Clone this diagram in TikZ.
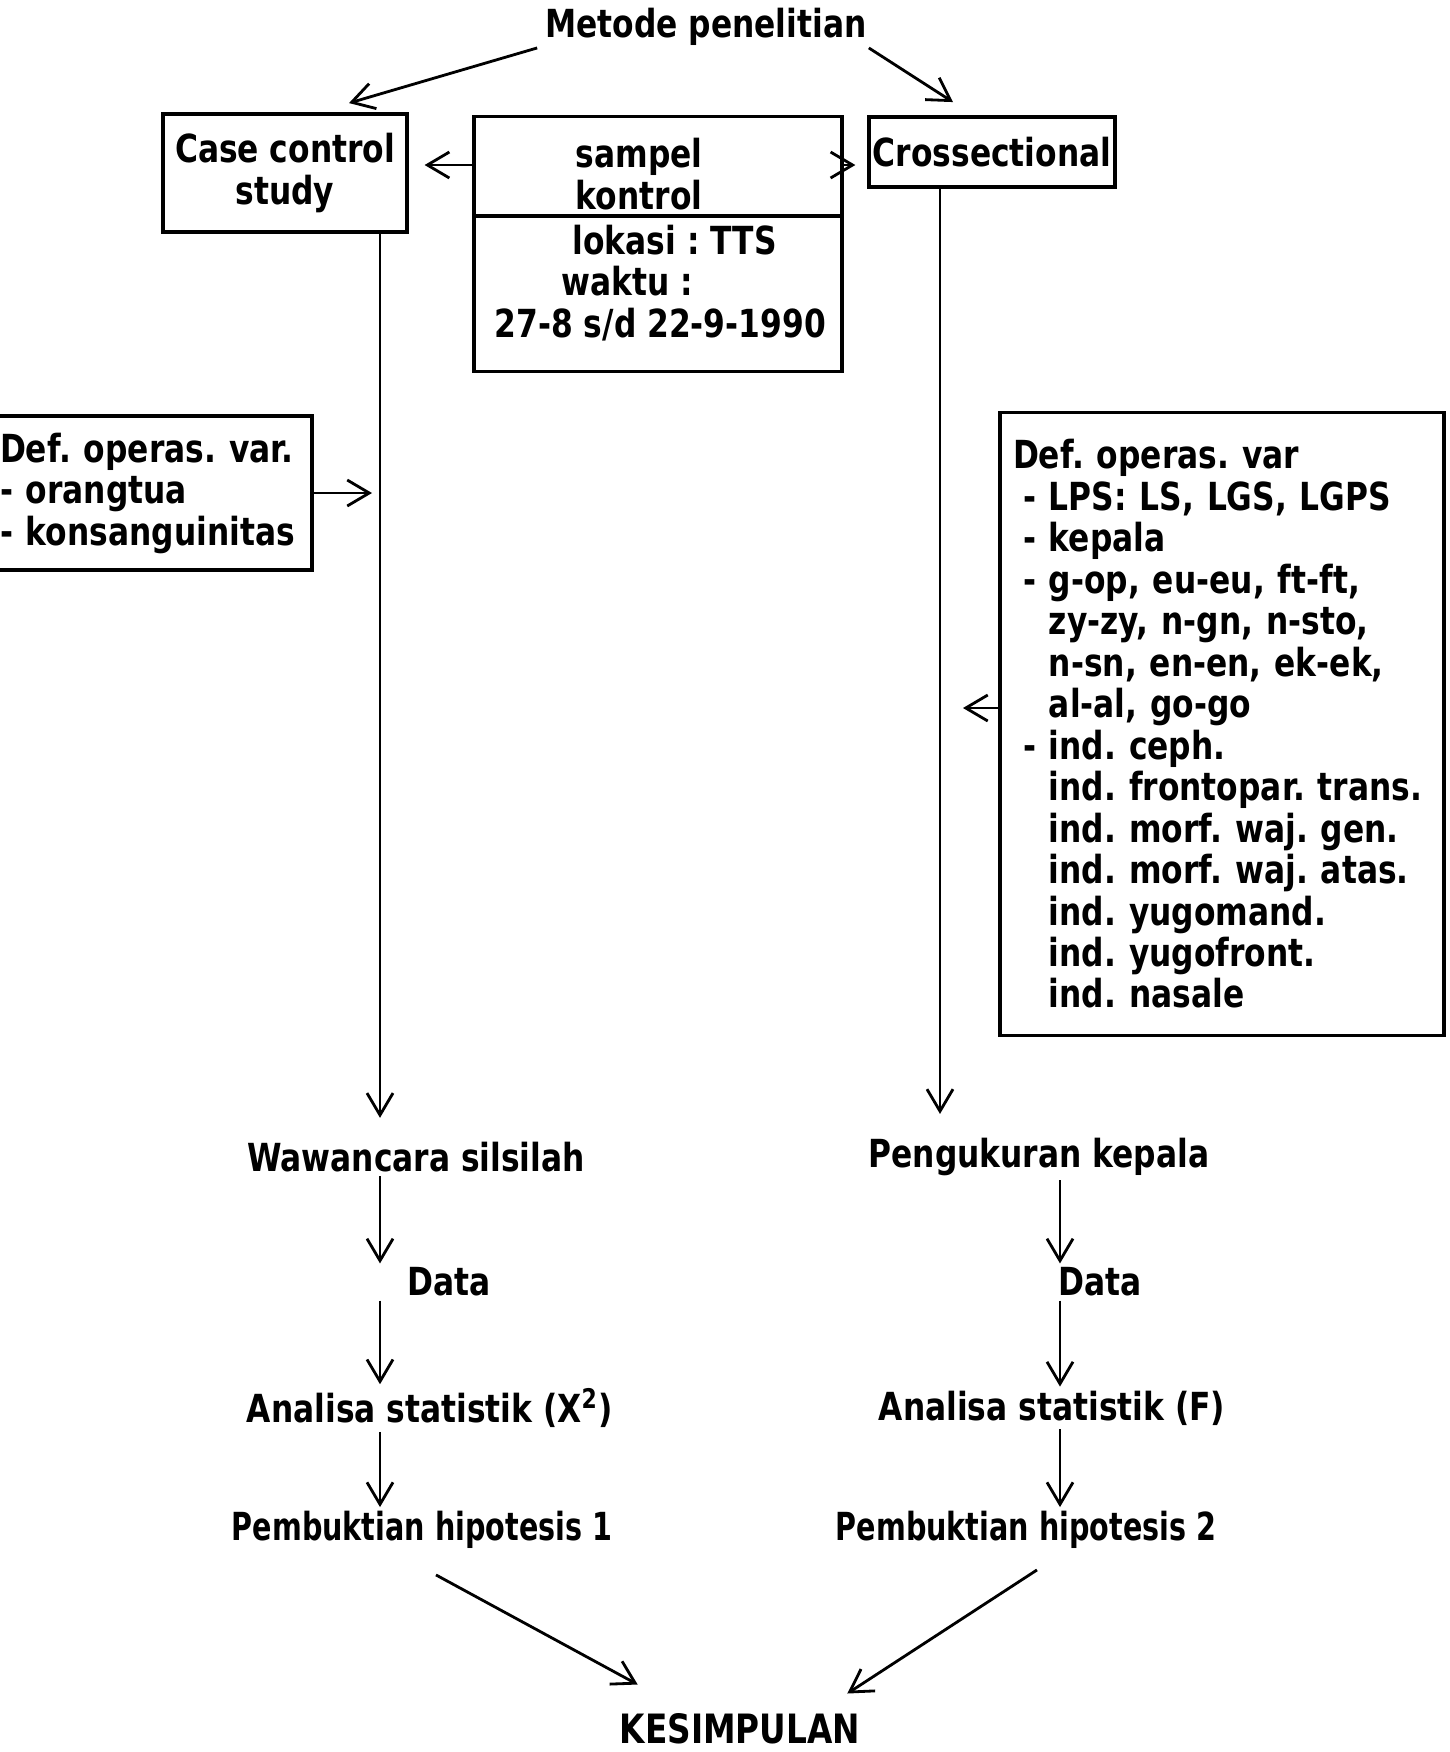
\documentclass[tikz,border=0pt]{standalone}
\usepackage{fontspec}
\setmainfont{DejaVu Sans}[FakeStretch=0.81]
\newfontfamily\narrowfont{DejaVu Sans}[FakeStretch=0.74]
\usetikzlibrary{positioning,calc,arrows.meta}
\frenchspacing

\newcommand{\itm}{\hspace*{1mm}-~}
\newcommand{\cnt}{\hspace*{1mm}\hphantom{-~}}

\tikzset{
  box/.style={draw, line width=1.1pt, align=center},
  lbl/.style={inner sep=1pt, align=center},
  arr/.style={-{Straight Barb[length=2.2mm,width=2.6mm]}, line width=0.8pt},
}

\begin{document}
\begin{tikzpicture}[x=0.1mm, y=-0.1mm, font=\fontsize{11}{11.8}\selectfont\bfseries]
    \useasboundingbox (0,0) rectangle (1450,1752);

    % top
    \node[lbl] (metode) at (706,27) {Metode penelitian};

    % row of boxes
    \node[box, minimum width=2.4cm, minimum height=1.18cm] (case) at (285,173) {Case control\\study};
    \node[box, minimum width=3.68cm, minimum height=2.55cm] (sampel) at (658,244) {};
    \coordinate (divy) at (0,216);
    \draw[line width=1.1pt] (sampel.west |- divy) -- (sampel.east |- divy);
    \node[lbl] (sampeltxt) at (639,174) {sampel\\kontrol};
    \node[lbl, anchor=west, align=left, inner sep=0pt] (lokasi) at (494,283)
        {\hspace*{7.8mm}lokasi : TTS\\\hspace*{6.7mm}waktu :\\27-8 s/d 22-9-1990};
    \node[box, minimum width=2.43cm, minimum height=0.7cm, inner xsep=1pt] (cross) at (992,152) {Crossectional};

    \coordinate (midy) at (0,165);
    \draw[arr, shorten >=1.6mm] (sampel.west |- midy) -- (case.east |- midy);
    \draw[arr, shorten >=1.2mm] (sampel.east |- midy) -- (cross.west |- midy);
    \draw[arr] ($(metode.south west)+(-4,-2)$) -- ($(case.north)+(64,-9)$);
    \draw[arr] ($(metode.south east)+(-2,-2)$) -- ($(cross.north)+(-39,-13)$);

    % definisi operasional
    \node[box, align=left, text width=3.08cm, inner xsep=0.4mm, minimum height=1.54cm] (defL) at (154,493)
        {Def. operas. var.\\- orangtua\\- konsanguinitas};
    \node[box, align=left, text width=4.18cm, inner xsep=1.3mm, minimum height=6.23cm] (defR) at (1222,724)
        {Def. operas. var\\
         \itm LPS: LS, LGS, LGPS\\
         \itm kepala\\
         \itm g-op, eu-eu, ft-ft,\\
         \cnt zy-zy, n-gn, n-sto,\\
         \cnt n-sn, en-en, ek-ek,\\
         \cnt al-al, go-go\\
         \itm ind. ceph.\\
         \cnt ind. frontopar. trans.\\
         \cnt ind. morf. waj. gen.\\
         \cnt ind. morf. waj. atas.\\
         \cnt ind. yugomand.\\
         \cnt ind. yugofront.\\
         \cnt ind. nasale};

    % columns
    \coordinate (lcol) at (380,0);
    \coordinate (rcol) at (940,0);
    \coordinate (rcol2) at (1060,0);

    \node[lbl] (wawancara) at (416,1157) {Wawancara silsilah};
    \node[lbl] (pengukuran) at (1039,1157) {Pengukuran kepala};
    \node[lbl] (dataL) at (449,1282) {Data};
    \node[lbl] (dataR) at (1100,1282) {Data};
    \node[lbl] (analisaL) at (430,1408) {Analisa statistik (X\textsuperscript{2})};
    \node[lbl] (analisaR) at (1052,1408) {Analisa statistik (F)};
    \node[lbl, font=\narrowfont\fontsize{11}{11.8}\selectfont\bfseries] (bukti1) at (422,1530) {Pembuktian hipotesis 1};
    \node[lbl, font=\narrowfont\fontsize{11}{11.8}\selectfont\bfseries] (bukti2) at (1026,1530) {Pembuktian hipotesis 2};
    \node[lbl, font=\fontsize{11.5}{14}\selectfont\bfseries] (kesimpulan) at (740,1729) {KESIMPULAN};

    \draw[arr] (case.south -| lcol) -- ([yshift=2mm]wawancara.north -| lcol);
    \draw[arr] (cross.south -| rcol) -- ([yshift=2mm]pengukuran.north -| rcol);
    \draw[arr, shorten >=0.8mm] (defL.east) -- (defL.east -| lcol);
    \coordinate (rin) at (963,708);
    \draw[arr] (defR.west |- rin) -- (rin);

    \draw[arr] (wawancara.south -| lcol) -- (dataL.north -| lcol);
    \draw[arr] (dataL.south -| lcol) -- (analisaL.north -| lcol);
    \draw[arr] (analisaL.south -| lcol) -- (bukti1.north -| lcol);
    \draw[arr] (pengukuran.south -| rcol2) -- (dataR.north -| rcol2);
    \draw[arr] (dataR.south -| rcol2) -- (analisaR.north -| rcol2);
    \draw[arr] (analisaR.south -| rcol2) -- (bukti2.north -| rcol2);

    \draw[arr] ($(bukti1.south)+(14,22)$) -- ($(kesimpulan.north west)+(22,-25)$);
    \draw[arr] ($(bukti2.south)+(11,17)$) -- ($(kesimpulan.north east)+(-17,-16)$);

\end{tikzpicture}
\end{document}
